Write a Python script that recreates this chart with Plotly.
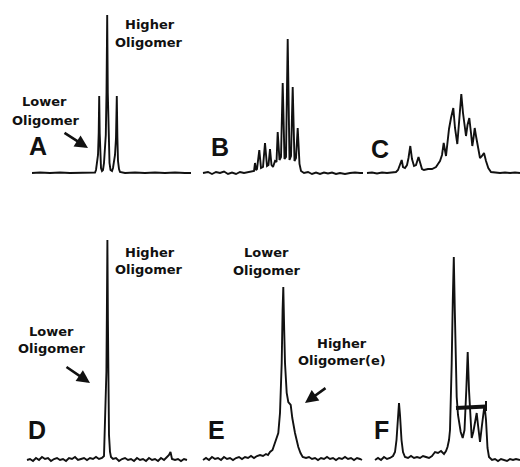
import plotly.graph_objects as go

# ---- Panel A (top row, intensity above baseline) ----
a_x = [32, 40, 50, 60, 70, 80, 90, 95, 96, 97, 98, 98.7, 99.2, 99.7, 100.3, 101, 102, 103, 104, 105, 105.8,
       106.5, 107.2, 107.8, 108.5, 109.5, 110.5, 112, 113, 114, 115, 116, 116.8, 117.4, 118, 119, 120,
       125, 135, 145, 155, 165, 175, 185, 191]
a_y = [0, 0.5, 0, 0.5, 0, 0.3, 0, 0.5, 3, 12, 18, 40, 77, 40, 15, 5, 2, 3, 10, 30, 38,
       80, 158, 80, 30, 10, 3, 2, 5, 12, 18, 35, 77, 35, 12, 4, 1,
       0, 0.5, 0, 0.5, 0, 0.5, 0, 0]

# ---- Panel B ----
b_x = [203, 208, 212, 216, 220, 224, 228, 232, 236, 240, 244, 248, 252, 254, 255, 256, 257, 259.3, 261, 263,
       265, 267, 268.5, 270, 271.5, 273, 275, 276.5, 277.7, 279.5, 281, 282.7, 284.5, 286, 287.7, 289.5,
       291, 292.7, 294.5, 296, 297.7, 299.5, 301, 304, 308, 312, 316, 320, 324, 328, 332, 336, 340,
       345, 350, 355, 360, 363]
b_y = [0, 1, -1, 1, 0, 1.5, -1, 0.5, -1, 1, 0, 1, 1.5, 2, 10, 3, 4, 23, 5, 6,
       30, 7, 8, 24, 8, 6, 12, 11, 41, 13, 16, 90, 14, 16, 134, 13,
       17, 86, 12, 15, 45, 9, 2, 0, 1, -1, 0.5, -1, 0.5, -0.5, 0.5, -1, 0,
       -1, 0, 0.5, 0, 0]

# ---- Panel C ----
c_x = [367, 372, 377, 382, 387, 392, 396, 398, 400, 401.7, 403, 405, 407, 408.5, 410.3, 412, 414, 416,
       418.5, 420.5, 422, 424, 428, 432, 436, 438, 440, 442, 443.7, 446, 449, 451, 453.3, 455, 457.3,
       459, 461.3, 463, 466, 467.5, 469.3, 471, 472.3, 473.5, 474.7, 476, 478, 480, 482, 484, 486,
       488.3, 491, 496, 500, 505, 510, 515, 520]
c_y = [0, 0.5, -0.5, 0.5, 0, 0.5, 1, 3, 8, 13, 6, 5, 8, 15, 27, 14, 7, 8,
       16, 8, 4, 3, 4, 4, 6, 9, 12, 18, 30, 17, 44, 55, 65, 45, 29,
       50, 79, 60, 37, 48, 55, 40, 27, 35, 45, 37, 25, 15, 17, 20, 12,
       5, 1, 0.5, 0, 0.5, 0, 0.5, 0]

# ---- Panel D (bottom row) ----
d_x = [27, 30, 33, 36, 39, 42, 45, 48, 51, 54, 57, 60, 63, 66, 69, 72, 75, 78, 81, 84, 87, 90, 93, 96, 99,
       102, 104, 104.8, 105.3, 105.8, 106.4, 106.9, 107.4, 107.9, 108.4, 109, 110, 111, 113, 116, 119,
       122, 125, 128, 131, 134, 137, 140, 143, 146, 149, 152, 155, 158, 161, 164, 167, 169, 170.5, 172,
       175, 178, 181, 184, 187]
d_y = [0, 1, -1, 2, 0, 3, 1, 2, -1, 1, 2, 0, 1, -1, 2, 1, 3, 0, 1, 2, 0, 2, 1, 3, 1,
       2, 4, 30, 60, 80, 88, 150, 220, 140, 60, 25, 8, 3, 1, 2, -1,
       1, 2, 0, 1, -1, 2, 0, 1, -1, 2, 0, 1, -1, 2, 0, 3, 5, 8, 1,
       0, 1, -1, 1, 0]

# ---- Panel E ----
e_x = [203, 206, 209, 212, 215, 218, 221, 224, 227, 230, 233, 236, 239, 242, 245, 248, 251, 254, 257, 260,
       263, 266, 268, 270, 272.5, 275, 278.3, 280, 281.7, 282.6, 283.3, 284.2, 285, 286.7, 288.3, 290.7,
       292.3, 295, 298.3, 300.5, 302.7, 306, 309, 312, 315, 318, 321, 324, 327, 330, 333, 336, 339,
       342, 345, 348, 351, 354, 357, 360, 362]
e_y = [0, 2, 0, 3, 1, 2, 0, 3, 1, 2, 0, 2, 3, 1, 3, 2, 4, 2, 4, 5,
       4, 6, 5, 8, 10, 17, 27, 47, 97, 150, 173, 130, 97, 67, 58, 55,
       42, 27, 13, 7, 3, 2, 3, 1, 2, 0, 2, 1, 3, 1, 2, 0, 2,
       1, 3, 1, 2, 0, 2, 1, 0]

# ---- Panel F ----
f_x = [375, 378, 381, 384, 387, 390, 393, 395, 396.5, 398, 399, 400, 401.5, 403, 405, 408, 411, 414, 417,
       420, 423, 426, 429, 432, 435, 438, 441, 444, 446, 447.5, 449, 450, 451, 451.7, 452.8, 453.8,
       454.8, 456, 456.7, 458, 459, 460.7, 462.7, 464.5, 466.3, 467.7, 469, 470.5, 471.7, 473.3, 475, 476.7,
       478, 480, 482, 484.5, 486, 487.5, 489, 492, 495, 498, 501, 504, 507, 510, 513, 516, 520]
f_y = [0, 2, 0, 3, 1, 2, 4, 8, 20, 45, 57, 45, 20, 8, 3, 2, 4, 2, 3,
       2, 4, 3, 2, 4, 8, 7, 9, 6, 9, 13, 20, 30, 60, 97, 160, 203,
       150, 90, 63, 45, 37, 28, 22, 30, 70, 108, 70, 35, 22, 28, 38, 47,
       35, 18, 35, 55, 40, 12, 3, 0, 1, -1, 1, 0, -1, 1, 0, 1, 0]

# horizontal bar drawn over peaks in F (bar ends, then the small end tick)
f_bar_x = [456, 486]
f_bar_y = [52, 53.5]
f_tick_x = [486, 486]
f_tick_y = [59, 49]

line = dict(color="#111111", width=1.9)
fig = go.Figure()
for xs, ys in [(a_x, a_y), (b_x, b_y), (c_x, c_y)]:
    fig.add_trace(go.Scatter(x=xs, y=ys, mode="lines", line=line, xaxis="x", yaxis="y",
                             hoverinfo="skip", showlegend=False))
for xs, ys in [(d_x, d_y), (e_x, e_y), (f_x, f_y)]:
    fig.add_trace(go.Scatter(x=xs, y=ys, mode="lines", line=line, xaxis="x2", yaxis="y2",
                             hoverinfo="skip", showlegend=False))
fig.add_trace(go.Scatter(x=f_bar_x, y=f_bar_y, mode="lines", line=dict(color="#111111", width=4),
                         xaxis="x2", yaxis="y2", hoverinfo="skip", showlegend=False))
fig.add_trace(go.Scatter(x=f_tick_x, y=f_tick_y, mode="lines", line=dict(color="#111111", width=2),
                         xaxis="x2", yaxis="y2", hoverinfo="skip", showlegend=False))

lab = dict(family="DejaVu Sans", size=13, color="#111111")
big = dict(family="Liberation Sans", size=25, color="#111111")

def t(text, x, y, row, font):
    xr, yr = ("x", "y") if row == 1 else ("x2", "y2")
    return dict(text="<b>%s</b>" % text, x=x, y=y, xref=xr, yref=yr, showarrow=False, font=font)

def arr(x, y, ax, ay, row):
    xr, yr = ("x", "y") if row == 1 else ("x2", "y2")
    return dict(text="", x=x, y=y, xref=xr, yref=yr, ax=ax, ay=ay, showarrow=True,
                arrowhead=2, arrowsize=1, arrowwidth=2.6, arrowcolor="#111111")

annotations = [
    t("Higher", 150, 149, 1, lab), t("Oligomer", 149, 131, 1, lab),
    t("Lower", 44, 72, 1, lab), t("Oligomer", 46, 53, 1, lab),
    t("A", 38, 27, 1, big), t("B", 219.5, 26, 1, big), t("C", 379.5, 24, 1, big),
    arr(88, 25, -25, -16, 1),
    t("Higher", 150, 208, 2, lab), t("Oligomer", 149, 191, 2, lab),
    t("Lower", 51, 129, 2, lab), t("Oligomer", 52, 112, 2, lab),
    t("D", 36.5, 30, 2, big),
    t("Lower", 266, 208, 2, lab), t("Oligomer", 267, 190, 2, lab),
    t("Higher", 342, 117, 2, lab), t("Oligomer(e)", 342, 100, 2, lab),
    t("E", 216, 30, 2, big), t("F", 381, 30, 2, big),
    arr(90, 77, -25, -17, 2),
    arr(305, 57, 22, -16, 2),
]

ax_common = dict(visible=False, showgrid=False, zeroline=False, fixedrange=True)
fig.update_layout(
    width=520, height=467, margin=dict(l=0, r=0, t=0, b=0),
    paper_bgcolor="white", plot_bgcolor="white",
    xaxis=dict(domain=[0, 1], range=[0, 520], anchor="y", **ax_common),
    yaxis=dict(domain=[0.5, 1], range=[-60.5, 173], anchor="x", **ax_common),
    xaxis2=dict(domain=[0, 1], range=[0, 520], anchor="y2", **ax_common),
    yaxis2=dict(domain=[0, 0.5], range=[-7, 226.5], anchor="x2", **ax_common),
    annotations=annotations,
)
fig.write_html("out.html", config={"displayModeBar": False},
               post_script="document.body.style.margin='0';document.body.style.overflow='hidden';")
